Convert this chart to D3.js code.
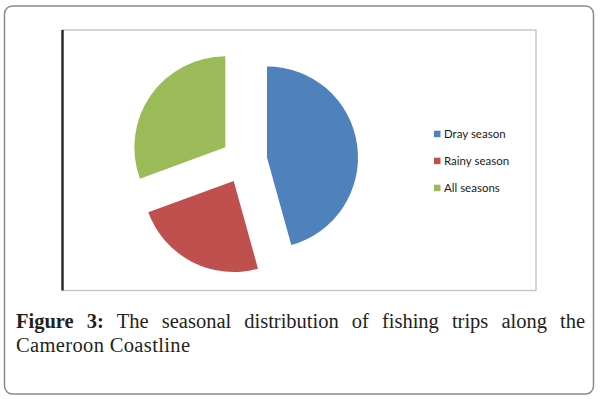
<!DOCTYPE html>
<html><head><meta charset="utf-8">
<script src="https://cdn.jsdelivr.net/npm/d3@7/dist/d3.min.js"></script>
<style>html,body{margin:0;padding:0;background:#fff;}svg{display:block;}</style>
</head><body>
<script>
const categories = ["Dray season", "Rainy season", "All seasons"];
const values = [45.7, 23.7, 30.6];
const colors = ["#4F81BD", "#C0504D", "#9BBB59"];
const captionBold = "Figure 3:";
const captionLine1 = "The seasonal distribution of fishing trips along the";
const captionLine2 = "Cameroon Coastline";

const W = 600, H = 399;
const svg = d3.select("body").append("svg").attr("width", W).attr("height", H);

// outer frame
svg.append("rect").attr("x", 4.5).attr("y", 6).attr("width", 589).attr("height", 388)
  .attr("rx", 8).attr("fill", "#fff").attr("stroke", "#8a8a8a").attr("stroke-width", 1.5);

// inner chart box
const box = {x0: 62.5, y0: 30, x1: 536, y1: 290.5};
svg.append("path").attr("d", `M${box.x0},${box.y0}H${box.x1}V${box.y1}H${box.x0}`)
  .attr("fill", "none").attr("stroke", "#c8c8c8").attr("stroke-width", 1.5);
svg.append("line").attr("x1", box.x0).attr("x2", box.x0).attr("y1", box.y0).attr("y2", box.y1)
  .attr("stroke", "#2a2a2a").attr("stroke-width", 2.5);

// pie
const cx = 244.2, cy = 160.5, r = 91, explode = 23;
const pie = d3.pie().sort(null).value(d => d)(values);
const arc = d3.arc().innerRadius(0).outerRadius(r);
const g = svg.append("g").attr("transform", `translate(${cx},${cy})`);
g.selectAll("path").data(pie).join("path")
  .attr("d", arc)
  .attr("fill", (d, i) => colors[i])
  .attr("transform", d => {
    const a = (d.startAngle + d.endAngle) / 2;
    return `translate(${explode * Math.sin(a)},${-explode * Math.cos(a)})`;
  });

// legend
const y = d3.scalePoint().domain(categories).range([134, 188]);
const lg = svg.append("g");
const items = lg.selectAll("g").data(categories).join("g")
  .attr("transform", d => `translate(434,${y(d)})`);
items.append("rect").attr("x", 0).attr("y", -3.3).attr("width", 6.5).attr("height", 6.5)
  .attr("fill", (d, i) => colors[i]);
items.append("text").attr("x", 10).attr("y", 0).attr("dy", "0.36em")
  .attr("font-family", "Lato, 'Open Sans', sans-serif").attr("font-size", 11.5)
  .attr("fill", "#1a1a1a").text(d => d);

// caption
const capFont = "'Liberation Serif', 'Times New Roman', serif";
const capSize = 20.5;
const left = 16, right = 585;
const words = [{t: "Figure", b: true}, {t: "3:", b: true}]
  .concat(captionLine1.split(" ").map(t => ({t, b: false})));
const cap = svg.append("g").attr("font-family", capFont).attr("font-size", capSize).attr("fill", "#231f20");
const nodes = words.map(w => cap.append("text").attr("y", 328)
  .attr("font-weight", w.b ? "bold" : "normal").text(w.t));
const widths = nodes.map(n => n.node().getComputedTextLength());
const total = d3.sum(widths);
const gap = (right - left - total) / (words.length - 1);
let xx = left;
nodes.forEach((n, i) => { n.attr("x", xx); xx += widths[i] + gap; });
cap.append("text").attr("x", left).attr("y", 352).attr("textLength", 174)
  .attr("lengthAdjust", "spacing").text(captionLine2);
</script>
</body></html>
